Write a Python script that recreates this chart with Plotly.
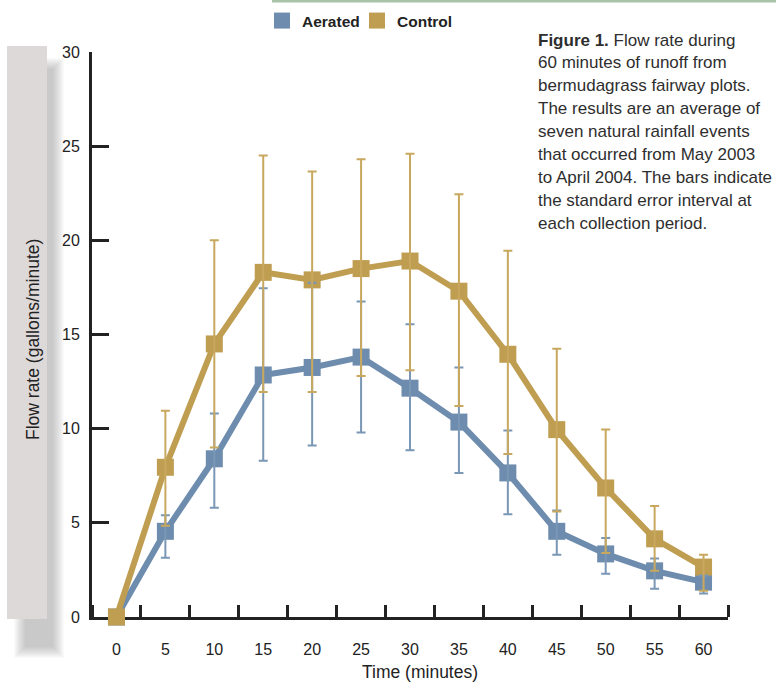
import plotly.graph_objects as go

# ---- data ----
time_min = [0, 5, 10, 15, 20, 25, 30, 35, 40, 45, 50, 55, 60]
aerated = [0, 4.55, 8.4, 12.85, 13.25, 13.8, 12.15, 10.35, 7.65, 4.55, 3.35, 2.45, 1.85]
aerated_upper = [0, 5.4, 10.8, 17.45, 17.75, 16.75, 15.55, 13.25, 9.9, 5.65, 4.2, 3.1, 2.2]
aerated_lower = [0, 3.15, 5.8, 8.3, 9.1, 9.8, 8.85, 7.65, 5.45, 3.3, 2.3, 1.5, 1.25]
control = [0, 7.95, 14.5, 18.3, 17.9, 18.5, 18.9, 17.3, 13.95, 9.95, 6.85, 4.15, 2.65]
control_upper = [0, 10.95, 20.0, 24.5, 23.65, 24.3, 24.6, 22.45, 19.45, 14.25, 9.95, 5.9, 3.3]
control_lower = [0, 4.85, 9.0, 11.95, 11.95, 12.8, 13.1, 11.2, 8.65, 5.6, 3.4, 2.45, 1.4]
x_ticks = [0, 5, 10, 15, 20, 25, 30, 35, 40, 45, 50, 55, 60]
y_ticks = [0, 5, 10, 15, 20, 25, 30]

caption_lines = [
    "<b>Figure 1.</b> Flow rate during",
    "60 minutes of runoff from",
    "bermudagrass fairway plots.",
    "The results are an average of",
    "seven natural rainfall events",
    "that occurred from May 2003",
    "to April 2004. The bars indicate",
    "the standard error interval at",
    "each collection period.",
]

BLUE = "#6e8cad"
GOLD = "#bf9e52"
BLUE_EB = "#7a97b6"
GOLD_EB = "#c8a85e"
FONT = "Liberation Sans, Arial, sans-serif"

W, H = 776, 684
ML, MR, MT, MB = 92, 48, 52, 67
PW, PH = W - ML - MR, H - MT - MB


def px(x):
    return (x - ML) / PW


def py(y):
    return (H - MB - y) / PH


fig = go.Figure()

fig.add_trace(go.Scatter(x=time_min, y=aerated, mode="lines+markers", name="Aerated",
                         line=dict(color=BLUE, width=6),
                         marker=dict(symbol="square", size=17, color=BLUE),
                         cliponaxis=False, showlegend=False))
fig.add_trace(go.Scatter(x=time_min, y=control, mode="lines+markers", name="Control",
                         line=dict(color=GOLD, width=6),
                         marker=dict(symbol="square", size=17, color=GOLD),
                         cliponaxis=False, showlegend=False))

# error bars drawn on top
for vals, up, lo, col in [(aerated, aerated_upper, aerated_lower, BLUE_EB),
                          (control, control_upper, control_lower, GOLD_EB)]:
    fig.add_trace(go.Scatter(
        x=time_min[1:], y=vals[1:], mode="markers",
        marker=dict(size=1, color="rgba(0,0,0,0)"),
        error_y=dict(type="data", symmetric=False,
                     array=[u - v for u, v in zip(up[1:], vals[1:])],
                     arrayminus=[v - l for v, l in zip(vals[1:], lo[1:])],
                     color=col, thickness=2, width=4.5),
        showlegend=False, hoverinfo="skip", cliponaxis=False))

# legend entries (square only)
fig.add_trace(go.Scatter(x=[None], y=[None], mode="markers", name="Aerated",
                         marker=dict(symbol="square", size=17, color=BLUE)))
fig.add_trace(go.Scatter(x=[None], y=[None], mode="markers", name="Control",
                         marker=dict(symbol="square", size=17, color=GOLD)))

shapes = []
# soft shadow of the side panel
for i in range(12):
    e = 12 - i
    shapes.append(dict(type="rect", xref="paper", yref="paper", layer="below",
                       x0=px(26 - e), x1=px(52 + e), y0=py(646 + e), y1=py(70 - e),
                       fillcolor="rgba(120,100,100,0.035)", line=dict(width=0)))
shapes.append(dict(type="rect", xref="paper", yref="paper", layer="below",
                   x0=px(7), x1=px(47), y0=py(619), y1=py(46),
                   fillcolor="#ded9d9", line=dict(width=0)))
shapes.append(dict(type="line", xref="paper", yref="paper",
                   x0=px(272), x1=px(776), y0=py(1), y1=py(1),
                   line=dict(color="#aac4aa", width=3)))

annotations = []
for i, t in enumerate(caption_lines):
    annotations.append(dict(text=t, xref="paper", yref="paper", x=px(536), y=py(40 + 22.9 * i),
                            xanchor="left", yanchor="middle", showarrow=False,
                            font=dict(family=FONT, size=17, color="#2e2e2e")))
annotations.append(dict(text="Flow rate (gallons/minute)", xref="paper", yref="paper",
                        x=px(33), y=py(340), textangle=-90, xanchor="center", yanchor="middle",
                        showarrow=False, font=dict(family=FONT, size=17.5, color="#222")))
annotations.append(dict(text="Time (minutes)", xref="paper", yref="paper",
                        x=px(420), y=py(672), xanchor="center", yanchor="middle",
                        showarrow=False, font=dict(family=FONT, size=17.5, color="#222")))

fig.update_layout(
    width=W, height=H,
    margin=dict(l=ML, r=MR, t=MT, b=MB, autoexpand=False),
    paper_bgcolor="white", plot_bgcolor="white",
    font=dict(family=FONT, size=16, color="#222"),
    shapes=shapes, annotations=annotations,
    legend=dict(orientation="h", x=px(262), y=py(21), xanchor="left", yanchor="middle",
                font=dict(family=FONT, size=15.5, color="#222", weight="bold"),
                bgcolor="rgba(0,0,0,0)", itemwidth=30, tracegroupgap=0,
                entrywidth=50, entrywidthmode="pixels"),
    xaxis=dict(range=[-2.5, 62.5], tickmode="array", tickvals=x_ticks,
               ticktext=[str(v) for v in x_ticks], ticks="", showgrid=False, zeroline=False,
               showline=True, linecolor="#222", linewidth=3, layer="below traces",
               ticklabelstandoff=16, tickfont=dict(size=16),
               minor=dict(tick0=2.5, dtick=5, ticks="inside", ticklen=12, tickwidth=3,
                          tickcolor="#222", showgrid=False)),
    yaxis=dict(range=[0, 30], tickmode="array", tickvals=y_ticks, ticks="inside",
               ticklen=17, tickwidth=3, tickcolor="#222", showgrid=False, zeroline=False,
               showline=True, linecolor="#222", linewidth=3, layer="below traces",
               ticklabelstandoff=6, tickfont=dict(size=16)),
)

fig.write_html("out.html", config={"displayModeBar": False},
               post_script="document.body.style.margin='0';")
